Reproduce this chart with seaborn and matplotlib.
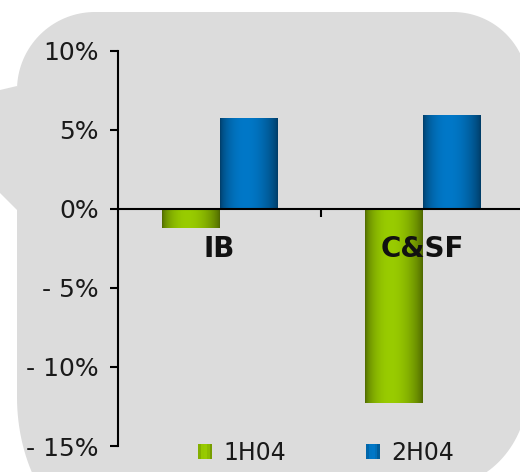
import numpy as np
import pandas as pd
import matplotlib
matplotlib.use("Agg")
import matplotlib.pyplot as plt
import seaborn as sns
from matplotlib.patches import Polygon, Rectangle
from matplotlib.transforms import IdentityTransform
from matplotlib.legend_handler import HandlerBase
from matplotlib.colors import to_rgb

# --- data -------------------------------------------------------------
categories = ["IB", "C&SF"]
periods = ["1H04", "2H04"]
growth_1h04 = [-1.2, -12.3]
growth_2h04 = [5.7, 5.9]
y_ticks = [10, 5, 0, -5, -10, -15]
y_tick_labels = ["10%", "5%", "0%", "- 5%", "- 10%", "- 15%"]

# dark edge / bright centre of the cylinder-like bar shading
shades = {"1H04": ("#4b6400", "#99cc00"), "2H04": ("#003a63", "#0078c8")}

df = pd.DataFrame({
    "segment": categories * 2,
    "period": [periods[0]] * len(categories) + [periods[1]] * len(categories),
    "growth": growth_1h04 + growth_2h04,
})

W, H = 520, 472
sns.set_style("white")
plt.rcParams["font.family"] = ["DejaVu Sans"]

fig = plt.figure(figsize=(W / 100, H / 100), dpi=100)
fig.patch.set_facecolor("white")


# --- rounded grey panel with a small tab on the left --------------------
def arc(cx, cy, rx, ry, a0, a1, n=40):
    a = np.radians(np.linspace(a0, a1, n))
    return np.column_stack([cx + rx * np.cos(a), cy + ry * np.sin(a)])


panel = np.vstack([
    arc(95, 90, 78, 78, 180, 270),
    arc(453, 87, 75, 75, 270, 360),
    arc(440, 389, 88, 98, 0, 90),
    arc(127, 397, 110, 150, 90, 180),
])
tab = np.array([[0, 90], [17, 86], [17, 210], [0, 193]], dtype=float)
panel_grey = "#dcdcdc"
for pts in (panel, tab):
    disp = np.column_stack([pts[:, 0], H - pts[:, 1]])
    fig.add_artist(Polygon(disp, closed=True, transform=IdentityTransform(),
                           facecolor=panel_grey, edgecolor="none", zorder=-1))

# --- axes ---------------------------------------------------------------
ax = fig.add_axes([118 / W, (H - 446) / H, (524 - 118) / W, (446 - 50.5) / H])
ax.set_facecolor("none")

mid = {p: tuple((np.array(to_rgb(d)) + np.array(to_rgb(b))) / 2)
       for p, (d, b) in shades.items()}
sns.barplot(data=df, x="segment", y="growth", hue="period",
            order=categories, hue_order=periods,
            palette=[mid[p] for p in periods], saturation=1,
            width=0.57, legend=False, ax=ax)


def shade_profile(n):
    t = np.linspace(0, 1, n)
    return np.sin(np.pi * t ** 0.85) ** 0.7


prof = shade_profile(256)
for patch in ax.patches:
    fc = np.array(patch.get_facecolor()[:3])
    period = min(periods, key=lambda p: np.abs(fc - np.array(mid[p])).sum())
    dark, bright = (np.array(to_rgb(c)) for c in shades[period])
    img = (dark + (bright - dark) * prof[:, None])[None, :, :]
    x0, y0 = patch.get_x(), patch.get_y()
    x1, y1 = x0 + patch.get_width(), y0 + patch.get_height()
    ax.imshow(img, extent=[x0, x1, min(y0, y1), max(y0, y1)], aspect="auto",
              interpolation="bilinear", zorder=patch.get_zorder() + 0.1)
    patch.set_edgecolor("none")

ax.set_xlim(-0.5, 1.5)
ax.set_ylim(-15, 10)
ax.set_xlabel("")
ax.set_ylabel("")

for side in ("top", "right"):
    ax.spines[side].set_visible(False)
ax.spines["bottom"].set_position(("data", 0))
for side in ("left", "bottom"):
    ax.spines[side].set_linewidth(1.5)
    ax.spines[side].set_color("black")
    ax.spines[side].set_zorder(5)
ax.xaxis.set_zorder(6)
ax.yaxis.set_zorder(6)

ax.set_yticks(y_ticks)
ax.set_yticklabels(y_tick_labels)
ax.tick_params(axis="y", left=True, direction="out", length=6, width=1.5,
               pad=8, labelsize=18, labelcolor="#1a1a1a", color="black")

ax.set_xticks([0.5])
ax.set_xticklabels([""])
ax.set_xticks([0, 1], minor=True)
ax.set_xticklabels(categories, minor=True, fontweight="bold", fontsize=20,
                   color="#111111")
ax.tick_params(axis="x", which="major", bottom=True, direction="out",
               length=6, width=1.5, color="black")
ax.tick_params(axis="x", which="minor", bottom=True, length=0, pad=19)


# --- legend with striped swatches ------------------------------------------
class StripeHandler(HandlerBase):
    def create_artists(self, legend, orig_handle, xdescent, ydescent,
                       width, height, fontsize, trans):
        dark, bright = (np.array(to_rgb(c)) for c in shades[orig_handle.get_label()])
        n = 5
        w = shade_profile(n + 2)[1:-1]
        arts = []
        for i in range(n):
            col = dark + (bright - dark) * w[i]
            arts.append(Rectangle((-xdescent + i * width / n, -ydescent),
                                  width / n, height, facecolor=col,
                                  edgecolor="none", transform=trans))
        return arts


handles = [Rectangle((0, 0), 1, 1, label=p) for p in periods]
fig.legend(handles, periods, loc="center",
           bbox_to_anchor=(326 / W, 1 - 453 / H), ncol=2, frameon=False,
           fontsize=17, handlelength=0.6, handleheight=0.6,
           handletextpad=0.45, columnspacing=3.4, labelcolor="#1a1a1a",
           handler_map={Rectangle: StripeHandler()})

fig.savefig("out.png", dpi=100)
